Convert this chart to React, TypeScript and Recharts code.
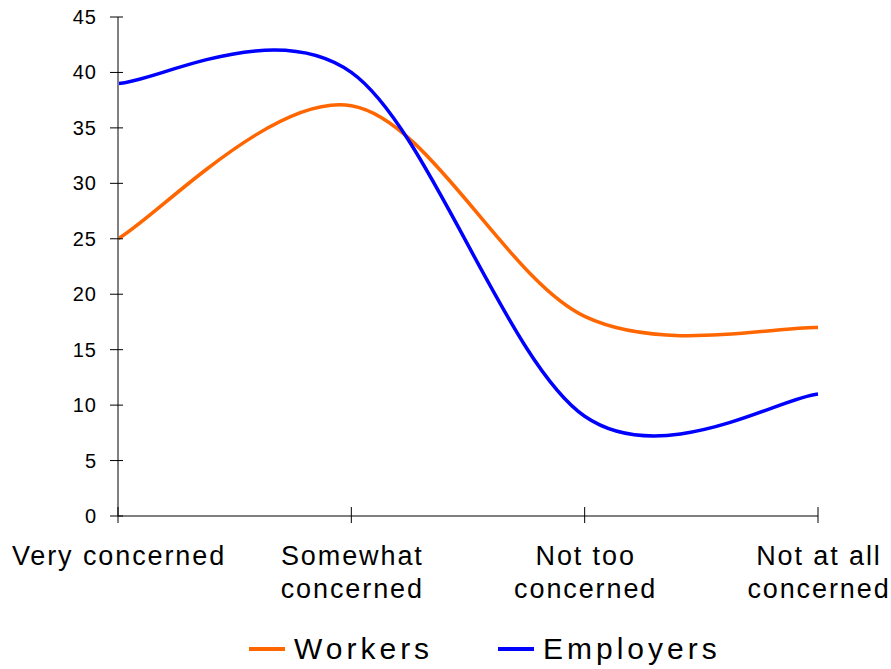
import { LineChart, Line, XAxis, YAxis, Legend } from 'recharts';

const categories = ['Very concerned', 'Somewhat\nconcerned', 'Not too\nconcerned', 'Not at all\nconcerned'];
const seriesNames = ['Workers', 'Employers'];
const workers = [25, 37, 18, 17];
const employers = [39, 40, 9, 11];
const yTicks = [0, 5, 10, 15, 20, 25, 30, 35, 40, 45];

const data = categories.map((name, i) => ({ name, workers: workers[i], employers: employers[i] }));

const FONT = '"Liberation Sans", Arial, sans-serif';

// Excel-style smoothed line (cardinal spline, tension 0)
const excelCurve = (context: any) => {
  let pts: number[][] = [];
  return {
    areaStart() {},
    areaEnd() {},
    lineStart() {
      pts = [];
    },
    lineEnd() {
      const n = pts.length;
      if (!n) return;
      context.moveTo(pts[0][0], pts[0][1]);
      for (let i = 0; i < n - 1; i++) {
        const p0 = pts[Math.max(i - 1, 0)];
        const p1 = pts[i];
        const p2 = pts[i + 1];
        const p3 = pts[Math.min(i + 2, n - 1)];
        context.bezierCurveTo(
          p1[0] + (p2[0] - p0[0]) / 6,
          p1[1] + (p2[1] - p0[1]) / 6,
          p2[0] - (p3[0] - p1[0]) / 6,
          p2[1] - (p3[1] - p1[1]) / 6,
          p2[0],
          p2[1]
        );
      }
    },
    point(x: number, y: number) {
      pts.push([+x, +y]);
    },
  };
};

const YTick = (props: any) => {
  const { x, y, payload } = props;
  return (
    <g>
      <line x1={x - 8} x2={x + 5} y1={y} y2={y} stroke="#000" strokeWidth={1} />
      <text
        x={x - 21}
        y={y + 7}
        textAnchor="end"
        fontSize={20}
        letterSpacing={1}
        fontFamily={FONT}
        fill="#000"
      >
        {payload.value}
      </text>
    </g>
  );
};

const XTick = (props: any) => {
  const { x, y, payload } = props;
  const lines = String(payload.value).split('\n');
  return (
    <g>
      <line x1={x} x2={x} y1={y - 9} y2={y + 7} stroke="#000" strokeWidth={1} />
      {lines.map((t, i) => (
        <text
          key={i}
          x={x + 1}
          y={y + 49 + i * 33}
          textAnchor="middle"
          fontSize={27}
          letterSpacing={1.9}
          fontFamily={FONT}
          fill="#000"
        >
          {t}
        </text>
      ))}
    </g>
  );
};

const legendX = [249, 498];

const renderLegend = (props: any) => {
  const payload = [...props.payload].sort(
    (a: any, b: any) => seriesNames.indexOf(a.value) - seriesNames.indexOf(b.value)
  );
  return (
    <svg width={891} height={50} style={{ display: 'block' }}>
      {payload.map((entry: any, i: number) => (
        <g key={entry.value}>
          <line x1={legendX[i]} x2={legendX[i] + 36} y1={30} y2={30} stroke={entry.color} strokeWidth={4} />
          <text
            x={legendX[i] + 45}
            y={40}
            fontSize={30}
            letterSpacing={4}
            fontFamily={FONT}
            fill="#000"
          >
            {entry.value}
          </text>
        </g>
      ))}
    </svg>
  );
};

export default function App() {
  return (
    <div style={{ position: 'absolute', left: 0, top: 0, background: '#fff' }}>
      <LineChart width={891} height={669} data={data} margin={{ top: 17, right: 73, left: 0, bottom: 0 }}>
        <XAxis
          dataKey="name"
          height={103}
          axisLine={{ stroke: '#000', strokeWidth: 1 }}
          tickLine={false}
          tickSize={0}
          tickMargin={0}
          interval={0}
          tick={<XTick />}
        />
        <YAxis
          width={118}
          domain={[0, 45]}
          ticks={yTicks}
          axisLine={{ stroke: '#808080', strokeWidth: 2 }}
          tickLine={false}
          tickSize={0}
          tickMargin={0}
          tick={<YTick />}
        />
        <Legend
          verticalAlign="bottom"
          height={50}
          width={891}
          wrapperStyle={{ left: 0 }}
          content={renderLegend}
        />
        <Line
          name="Workers"
          dataKey="workers"
          type={excelCurve as any}
          stroke="#FF6600"
          strokeWidth={3.5}
          dot={false}
          isAnimationActive={false}
        />
        <Line
          name="Employers"
          dataKey="employers"
          type={excelCurve as any}
          stroke="#0000FF"
          strokeWidth={3.5}
          dot={false}
          isAnimationActive={false}
        />
      </LineChart>
    </div>
  );
}
